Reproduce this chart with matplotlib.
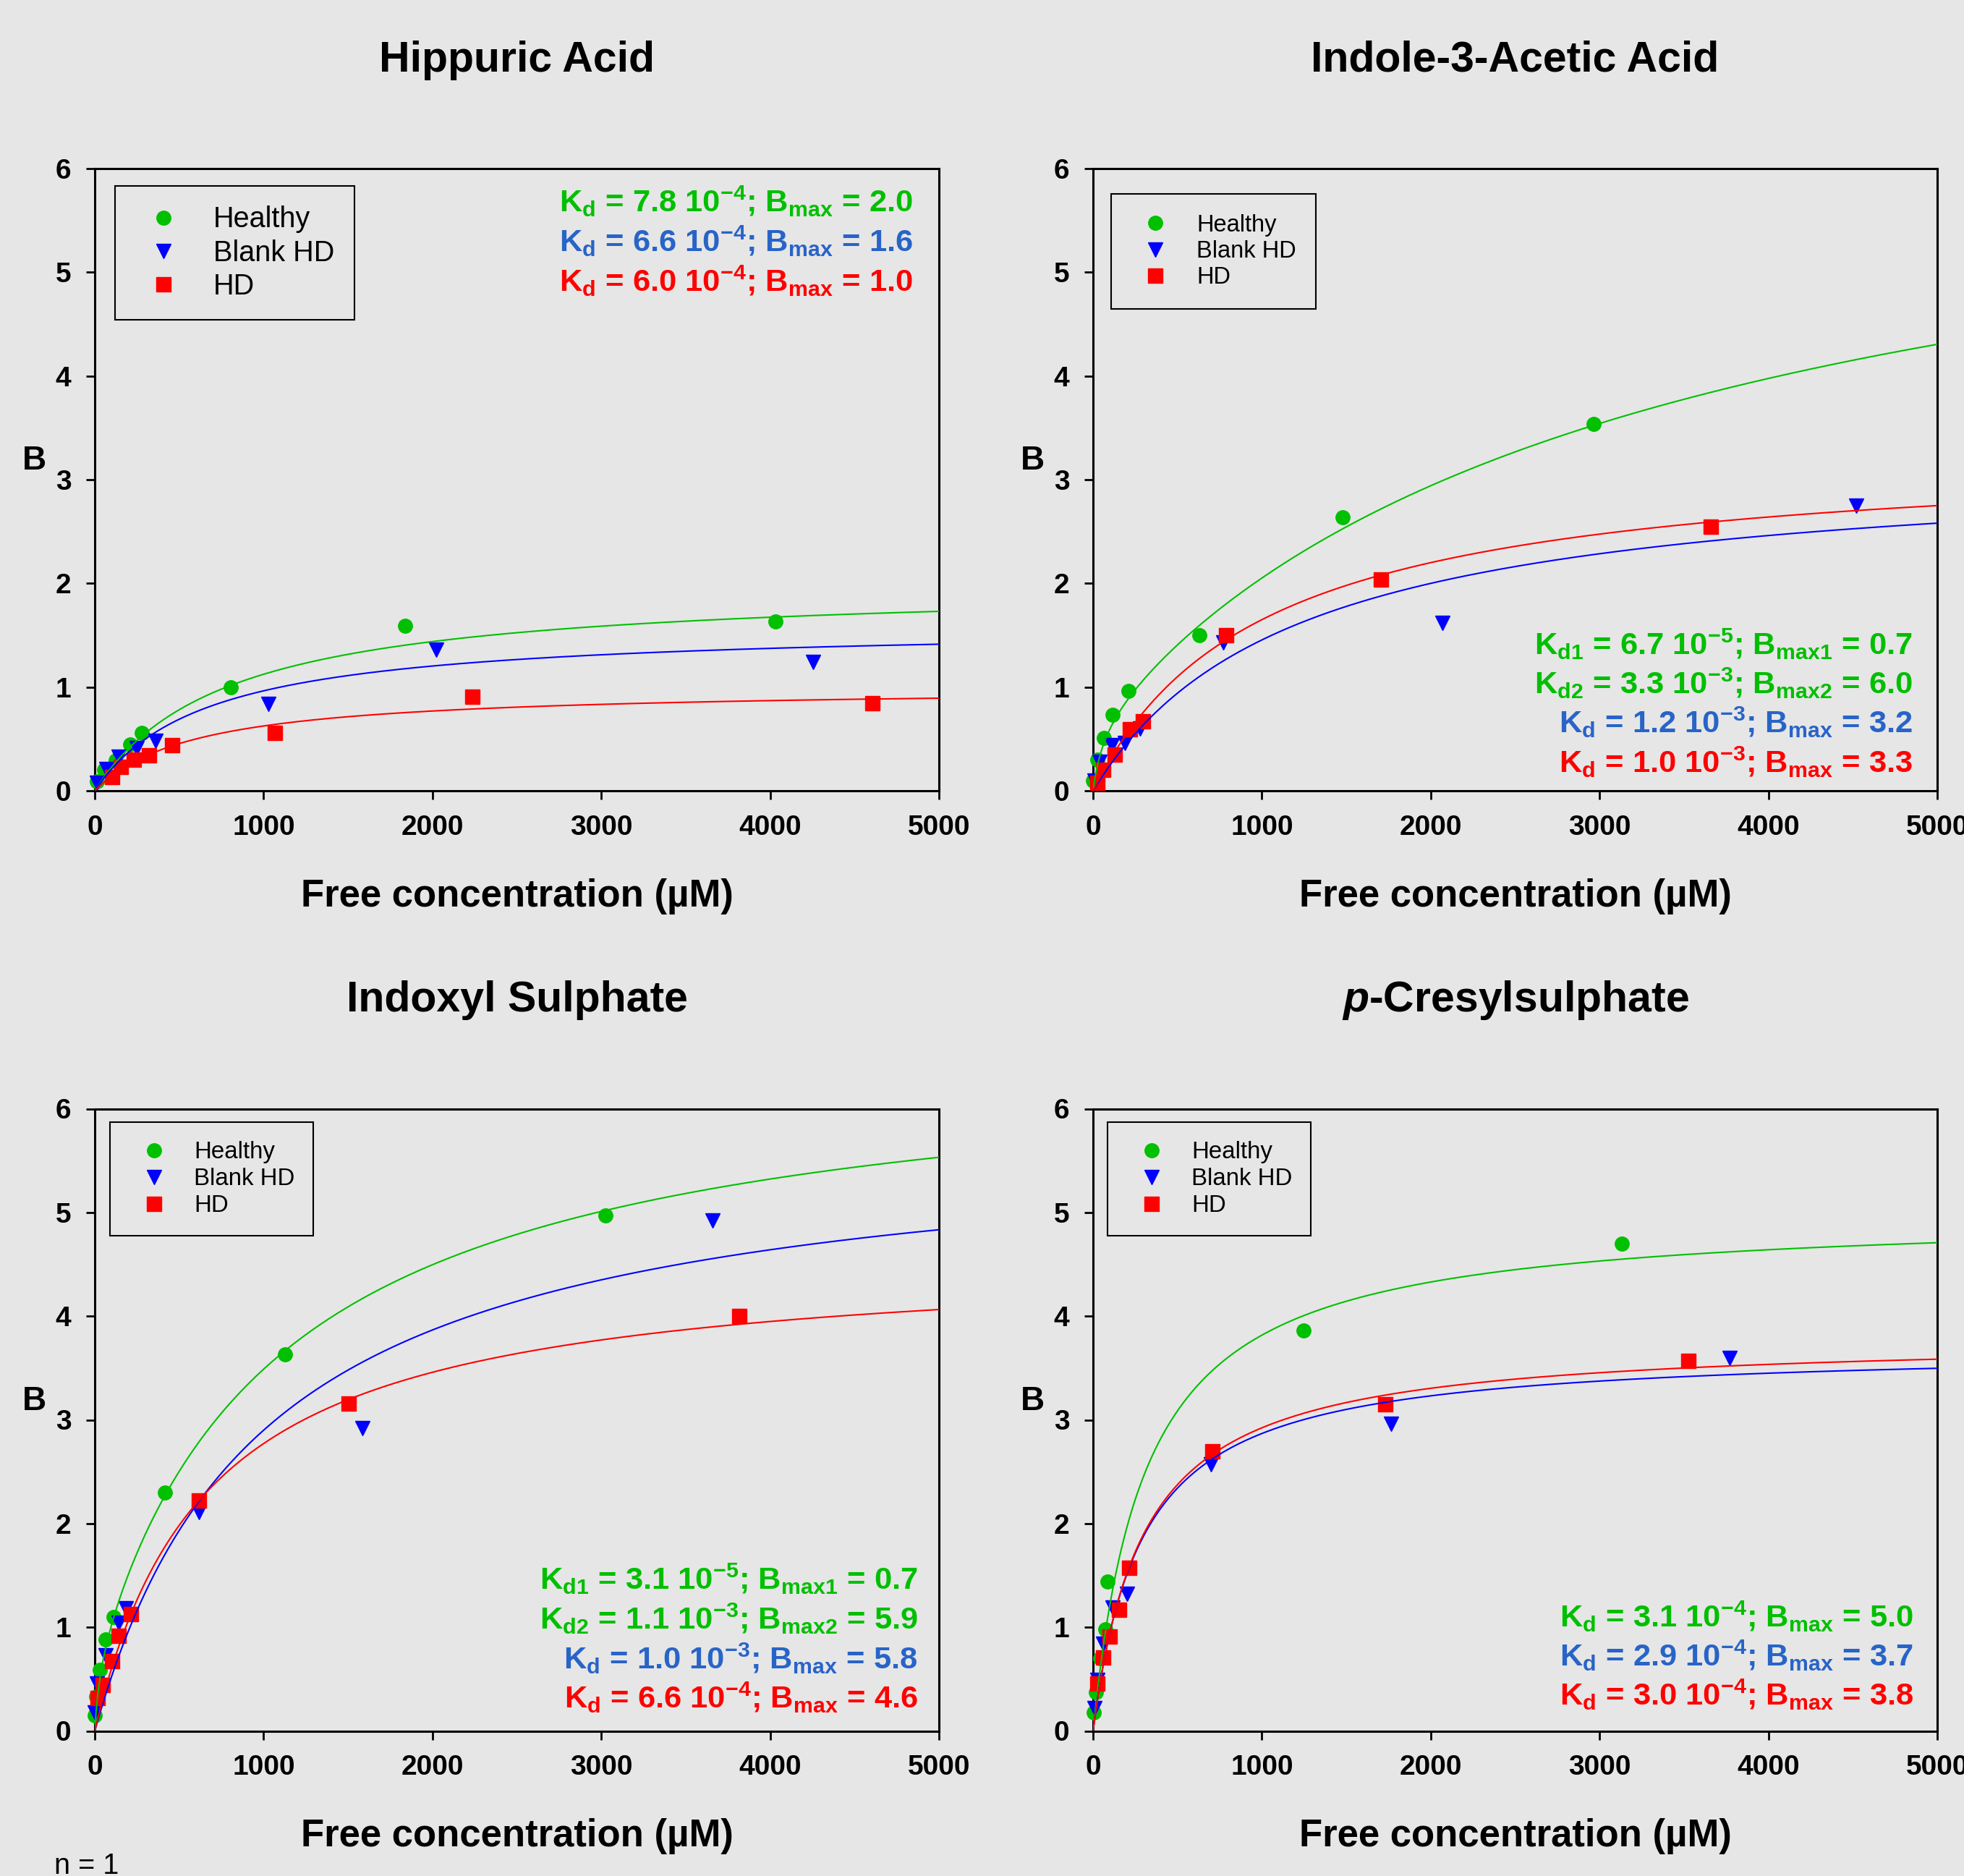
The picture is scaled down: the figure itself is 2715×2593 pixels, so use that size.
import numpy as np
import matplotlib
matplotlib.use('Agg')
import matplotlib.pyplot as plt

plt.rcParams['font.family'] = ['Liberation Sans', 'DejaVu Sans']
plt.rcParams['font.weight'] = 'bold'
plt.rcParams['mathtext.fontset'] = 'custom'
plt.rcParams['mathtext.rm'] = 'Liberation Sans:bold'
plt.rcParams['mathtext.it'] = 'Liberation Sans:italic:bold'
plt.rcParams['mathtext.bf'] = 'Liberation Sans:bold'

BG = '#e6e6e6'
GREEN = '#00c000'
BLUE = '#0000ff'
RED = '#ff0000'
NOTE_GREEN = '#00bf00'
NOTE_BLUE = '#2864c8'
NOTE_RED = '#ff0000'

labels = ['Healthy', 'Blank HD', 'HD']

# Hippuric Acid
hip_healthy_x = [11, 54, 126, 211, 280, 804, 1838, 4033]
hip_healthy_y = [0.09, 0.20, 0.29, 0.45, 0.56, 1.00, 1.59, 1.63]
hip_blank_x = [11, 69, 140, 247, 361, 1030, 2022, 4255]
hip_blank_y = [0.08, 0.21, 0.33, 0.41, 0.48, 0.84, 1.36, 1.24]
hip_hd_x = [104, 154, 233, 323, 457, 1065, 2236, 4606]
hip_hd_y = [0.135, 0.23, 0.30, 0.34, 0.44, 0.56, 0.91, 0.845]
# fitted Kd (uM) and Bmax per site
hip_fit = [[(780, 2.0)], [(660, 1.6)], [(600, 1.0)]]

# Indole-3-Acetic Acid
ind_healthy_x = [0, 26, 66, 117, 208, 631, 1478, 2963]
ind_healthy_y = [0.10, 0.30, 0.51, 0.73, 0.96, 1.50, 2.64, 3.54]
ind_blank_x = [10, 40, 110, 190, 280, 770, 2070, 4520]
ind_blank_y = [0.10, 0.28, 0.44, 0.46, 0.60, 1.43, 1.62, 2.75]
ind_hd_x = [25, 60, 130, 220, 295, 790, 1705, 3660]
ind_hd_y = [0.08, 0.20, 0.35, 0.59, 0.67, 1.50, 2.04, 2.55]
ind_fit = [[(67, 0.7), (3300, 6.0)], [(1200, 3.2)], [(1000, 3.3)]]

# Indoxyl Sulphate
ins_healthy_x = [0, 7, 30, 63, 111, 417, 1125, 3026]
ins_healthy_y = [0.15, 0.33, 0.59, 0.88, 1.10, 2.30, 3.63, 4.97]
ins_blank_x = [0, 11, 63, 140, 185, 616, 1587, 3660]
ins_blank_y = [0.18, 0.46, 0.73, 1.04, 1.18, 2.11, 2.92, 4.92]
ins_hd_x = [18, 48, 103, 140, 214, 616, 1502, 3819]
ins_hd_y = [0.32, 0.44, 0.67, 0.92, 1.13, 2.22, 3.16, 4.00]
ins_fit = [[(31, 0.7), (1100, 5.9)], [(1000, 5.8)], [(660, 4.6)]]

# p-Cresylsulphate
pcs_healthy_x = [5, 18, 44, 73, 87, 1246, 3134]
pcs_healthy_y = [0.18, 0.37, 0.70, 0.98, 1.44, 3.86, 4.70]
pcs_blank_x = [7, 26, 62, 117, 200, 700, 1764, 3772]
pcs_blank_y = [0.22, 0.49, 0.84, 1.19, 1.32, 2.57, 2.96, 3.60]
pcs_hd_x = [26, 62, 98, 153, 215, 707, 1731, 3524]
pcs_hd_y = [0.46, 0.71, 0.91, 1.17, 1.57, 2.70, 3.15, 3.57]
pcs_fit = [[(310, 5.0)], [(290, 3.7)], [(300, 3.8)]]

hip_notes = [r'K$_\mathrm{d}$ = 7.8 10$^{\mathrm{-4}}$; B$_\mathrm{max}$ = 2.0',
             r'K$_\mathrm{d}$ = 6.6 10$^{\mathrm{-4}}$; B$_\mathrm{max}$ = 1.6',
             r'K$_\mathrm{d}$ = 6.0 10$^{\mathrm{-4}}$; B$_\mathrm{max}$ = 1.0']
ind_notes = [r'K$_\mathrm{d1}$ = 6.7 10$^{\mathrm{-5}}$; B$_\mathrm{max1}$ = 0.7',
             r'K$_\mathrm{d2}$ = 3.3 10$^{\mathrm{-3}}$; B$_\mathrm{max2}$ = 6.0',
             r'K$_\mathrm{d}$ = 1.2 10$^{\mathrm{-3}}$; B$_\mathrm{max}$ = 3.2',
             r'K$_\mathrm{d}$ = 1.0 10$^{\mathrm{-3}}$; B$_\mathrm{max}$ = 3.3']
ins_notes = [r'K$_\mathrm{d1}$ = 3.1 10$^{\mathrm{-5}}$; B$_\mathrm{max1}$ = 0.7',
             r'K$_\mathrm{d2}$ = 1.1 10$^{\mathrm{-3}}$; B$_\mathrm{max2}$ = 5.9',
             r'K$_\mathrm{d}$ = 1.0 10$^{\mathrm{-3}}$; B$_\mathrm{max}$ = 5.8',
             r'K$_\mathrm{d}$ = 6.6 10$^{\mathrm{-4}}$; B$_\mathrm{max}$ = 4.6']
pcs_notes = [r'K$_\mathrm{d}$ = 3.1 10$^{\mathrm{-4}}$; B$_\mathrm{max}$ = 5.0',
             r'K$_\mathrm{d}$ = 2.9 10$^{\mathrm{-4}}$; B$_\mathrm{max}$ = 3.7',
             r'K$_\mathrm{d}$ = 3.0 10$^{\mathrm{-4}}$; B$_\mathrm{max}$ = 3.8']


def draw_panel(ax, title, xs_list, ys_list, fits, notes, note_colors, note_x, note_y, leg):
    ax.set_facecolor(BG)
    grid = np.linspace(0, 5000, 600)
    markers = ['o', 'v', 's']
    colors = [GREEN, BLUE, RED]
    for x, y, m, c, lab in zip(xs_list, ys_list, markers, colors, labels):
        ax.plot(x, y, m, color=c, mec=c, ms=14, ls='none', label=lab,
                clip_on=False, zorder=3)
    for params, c in zip(fits, colors):
        curve = sum(b * grid / (kd + grid) for kd, b in params)
        ax.plot(grid, curve, color=c, lw=1.5, zorder=4)

    ax.set_xlim(0, 5000)
    ax.set_ylim(0, 6)
    ax.set_xticks(range(0, 5001, 1000))
    ax.set_yticks(range(0, 7))
    ax.tick_params(direction='out', length=8.5, width=2, pad=15, labelsize=28)
    for s in ax.spines.values():
        s.set_linewidth(2.2)

    ax.text(0.5, 1.156, title, transform=ax.transAxes, ha='center',
            va='baseline', fontsize=42.5)
    ax.text(0.5, -0.186, 'Free concentration (µM)', transform=ax.transAxes,
            ha='center', va='baseline', fontsize=38)
    ax.text(-0.0716, 0.516, 'B', transform=ax.transAxes, ha='center',
            va='baseline', fontsize=33)

    for txt, c, yy in zip(notes, note_colors, note_y):
        ax.text(note_x, yy, txt, transform=ax.transAxes, ha='right',
                va='baseline', fontsize=31.3, color=c)

    lg = ax.legend(loc='upper left', bbox_to_anchor=leg['anchor'], borderaxespad=0,
                   prop={'size': leg['size'], 'weight': 'normal'},
                   borderpad=leg['borderpad'], labelspacing=leg['labelspacing'],
                   handlelength=leg['handlelength'], handletextpad=leg['handletextpad'],
                   fancybox=False, framealpha=1, facecolor=BG, edgecolor='black')
    lg.get_frame().set_linewidth(1.5)


fig = plt.figure(figsize=(27.15, 25.93), dpi=100)
fig.patch.set_facecolor(BG)

W, H = 2715, 2593
ax_tl = fig.add_axes([131 / W, 1 - 1093 / H, 1167 / W, 860 / H])
ax_tr = fig.add_axes([1511 / W, 1 - 1093 / H, 1167 / W, 860 / H])
ax_bl = fig.add_axes([131 / W, 1 - 2392.5 / H, 1167 / W, 860 / H])
ax_br = fig.add_axes([1511 / W, 1 - 2392.5 / H, 1167 / W, 860 / H])

draw_panel(ax_tl, 'Hippuric Acid',
           [hip_healthy_x, hip_blank_x, hip_hd_x],
           [hip_healthy_y, hip_blank_y, hip_hd_y], hip_fit,
           hip_notes, [NOTE_GREEN, NOTE_BLUE, NOTE_RED], 0.969, [0.930, 0.866, 0.802],
           dict(anchor=(0.024, 0.972), size=28.5, borderpad=0.69, labelspacing=0.21,
                handlelength=2.0, handletextpad=0.75))

draw_panel(ax_tr, 'Indole-3-Acetic Acid',
           [ind_healthy_x, ind_blank_x, ind_hd_x],
           [ind_healthy_y, ind_blank_y, ind_hd_y], ind_fit,
           ind_notes, [NOTE_GREEN, NOTE_GREEN, NOTE_BLUE, NOTE_RED], 0.971,
           [0.219, 0.156, 0.093, 0.029],
           dict(anchor=(0.0214, 0.959), size=23.5, borderpad=0.84, labelspacing=0.165,
                handlelength=2.06, handletextpad=0.72))

draw_panel(ax_bl, 'Indoxyl Sulphate',
           [ins_healthy_x, ins_blank_x, ins_hd_x],
           [ins_healthy_y, ins_blank_y, ins_hd_y], ins_fit,
           ins_notes, [NOTE_GREEN, NOTE_GREEN, NOTE_BLUE, NOTE_RED], 0.975,
           [0.227, 0.163, 0.099, 0.036],
           dict(anchor=(0.0178, 0.978), size=23.8, borderpad=0.78, labelspacing=0.18,
                handlelength=2.13, handletextpad=0.6))

draw_panel(ax_br, r'$\mathit{p}$-Cresylsulphate',
           [pcs_healthy_x, pcs_blank_x, pcs_hd_x],
           [pcs_healthy_y, pcs_blank_y, pcs_hd_y], pcs_fit,
           pcs_notes, [NOTE_GREEN, NOTE_BLUE, NOTE_RED], 0.972, [0.167, 0.104, 0.041],
           dict(anchor=(0.0173, 0.978), size=23.8, borderpad=0.78, labelspacing=0.18,
                handlelength=2.13, handletextpad=0.6))

fig.text(75 / W, 0.001, 'n = 1', fontsize=28.5, fontweight='normal', va='baseline')

fig.savefig('out.png', dpi=100, facecolor=BG)
